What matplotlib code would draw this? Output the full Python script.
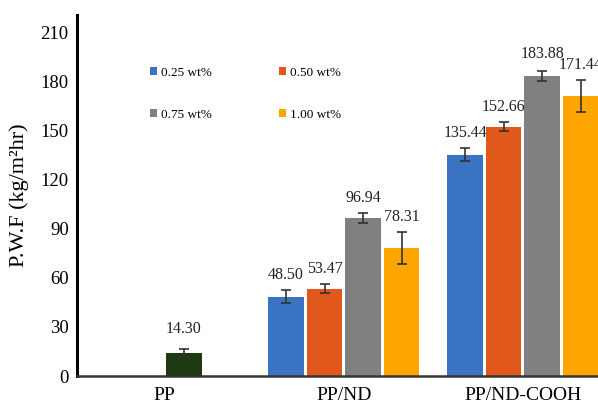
import matplotlib
matplotlib.use("Agg")
import matplotlib.pyplot as plt
from matplotlib.patches import Patch
import numpy as np

plt.rcParams['font.family'] = ['Liberation Serif', 'DejaVu Serif']

categories = ["PP", "PP/ND", "PP/ND-COOH"]
series = ["0.25 wt%", "0.50 wt%", "0.75 wt%", "1.00 wt%"]
colors = ["#3A73C2", "#E0581C", "#808080", "#FFA500"]
pp_color = "#1F3A12"

pp_value = 14.30
pp_err = 2.5
nd_values = [48.50, 53.47, 96.94, 78.31]
nd_errs = [4.0, 2.8, 3.0, 10.0]
cooh_values = [135.44, 152.66, 183.88, 171.44]
cooh_errs = [4.0, 2.8, 3.0, 10.0]
yticks = [0, 30, 60, 90, 120, 150, 180, 210]

fig = plt.figure(figsize=(5.98, 4.05), dpi=100)
ax = fig.add_axes([0.1288, 0.0716, 0.8712, 0.8914])

bw = 0.2
step = 0.215
offsets = [-1.5 * step, -0.5 * step, 0.5 * step, 1.5 * step]
err_kw = dict(ecolor="#333333", elinewidth=1.2, capsize=3.5, capthick=1.2)

def label(x, v, e, off=5):
    ax.annotate(f"{v:.2f}", (x, v + e), xytext=(0, off), textcoords="offset points",
                ha="center", va="bottom", fontsize=11.5, color="#222222")

# PP bar (third slot)
x = 0 + offsets[2]
ax.bar(x, pp_value, bw, color=pp_color, yerr=pp_err, error_kw=err_kw)
label(x, pp_value, pp_err, off=8)

for i in range(4):
    x1 = 1 + offsets[i]
    ax.bar(x1, nd_values[i], bw, color=colors[i], yerr=nd_errs[i], error_kw=err_kw)
    label(x1, nd_values[i], nd_errs[i])
    x2 = 2 + offsets[i]
    ax.bar(x2, cooh_values[i], bw, color=colors[i], yerr=cooh_errs[i], error_kw=err_kw)
    label(x2, cooh_values[i], cooh_errs[i], off=6 if i == 2 else 5)

ax.set_xlim(-0.49, 2.42)
ax.set_ylim(0, 221)
ax.set_yticks(yticks)
ax.set_yticklabels([str(t) for t in yticks], fontsize=13.5)
ax.set_xticks([0, 1, 2])
ax.set_xticklabels(categories, fontsize=14)
ax.tick_params(axis="both", length=0, pad=6)
ax.tick_params(axis="x", pad=8)
for s in ["top", "right"]:
    ax.spines[s].set_visible(False)
ax.spines["left"].set_linewidth(2.2)
ax.spines["left"].set_color("black")
ax.spines["bottom"].set_linewidth(1.8)
ax.spines["bottom"].set_color("#333333")
ax.set_ylabel("P.W.F (kg/m²hr)", fontsize=16, labelpad=8)

# legend: row-wise order (0.25, 0.50 / 0.75, 1.00) with ncol=2 fills columns first
order = [0, 2, 1, 3]
handles = [Patch(facecolor=colors[i]) for i in order]
labels = [series[i] for i in order]
leg = ax.legend(handles, labels, ncol=2, frameon=False, fontsize=9.5,
                handlelength=0.55, handleheight=0.55, handletextpad=0.3,
                columnspacing=5.1, labelspacing=2.3,
                loc="upper left", bbox_to_anchor=(0.117, 0.89))

fig.savefig("out.png", dpi=100)
